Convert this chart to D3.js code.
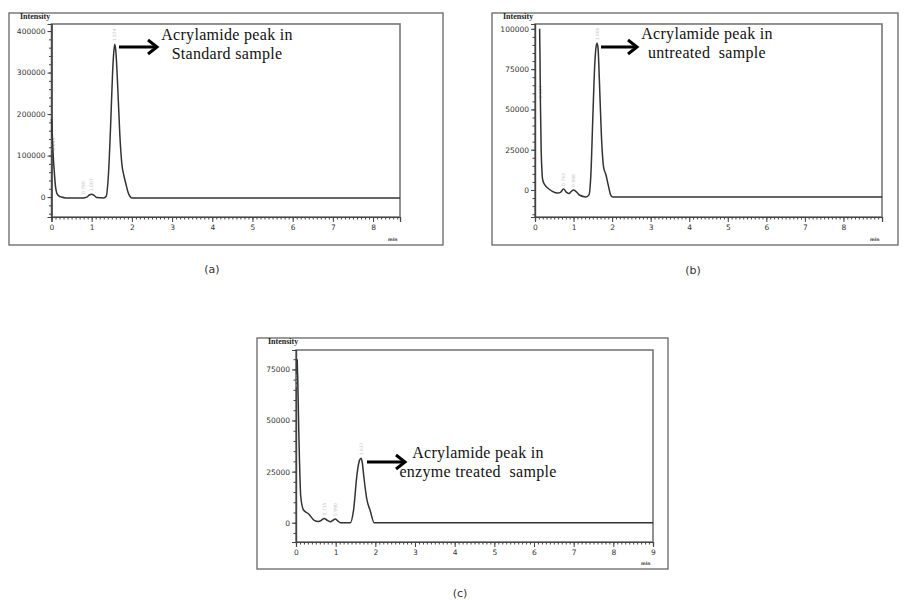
<!DOCTYPE html>
<meta charset="utf-8">
<head>
<style>
  body { margin: 0; background: #fff; }
  svg { display: block; }
</style>
</head>
<script type="text/javascript" src="https://cdn.jsdelivr.net/npm/d3@7"></script>
<body>
<script>

// chromatogram (a) standard sample
var timeA = [0, 0.02, 0.04, 0.07, 0.1, 0.13, 0.18, 0.25, 0.35, 0.5, 0.78, 0.88, 0.94, 1.0, 1.06, 1.12, 1.3, 1.36, 1.42, 1.47, 1.52, 1.55, 1.575, 1.6, 1.65, 1.7, 1.75, 1.8, 1.85, 1.9, 1.95, 2.0, 8.67];
var intA = [188000, 150000, 105000, 60000, 25000, 10000, 3000, 0, -2000, -2000, -2000, 0, 5000, 7000, 4000, -1000, -2000, 2000, 60000, 170000, 300000, 350000, 368000, 352000, 260000, 150000, 80000, 52000, 32000, 13000, 2000, -2000, -2000];

// chromatogram (b) untreated sample
var timeB = [0.12, 0.13, 0.14, 0.16, 0.18, 0.2, 0.26, 0.33, 0.45, 0.59, 0.66, 0.74, 0.82, 0.88, 0.95, 1.0, 1.06, 1.15, 1.32, 1.4, 1.45, 1.5, 1.55, 1.585, 1.61, 1.635, 1.67, 1.72, 1.78, 1.84, 1.9, 1.97, 2.02, 9.0];
var intB = [100000, 82000, 55000, 25000, 12000, 6200, 3000, 1200, -800, -1900, -1500, 600, -1500, -2200, -700, 0, -800, -3100, -4300, -3000, 10000, 45000, 78000, 89000, 91000, 88000, 68000, 35000, 14000, 9500, 3000, -3500, -4300, -4300];

// chromatogram (c) enzyme treated sample
var timeC = [0.03, 0.05, 0.07, 0.09, 0.12, 0.19, 0.32, 0.45, 0.57, 0.64, 0.71, 0.8, 0.87, 0.93, 0.99, 1.05, 1.12, 1.37, 1.45, 1.54, 1.6, 1.64, 1.67, 1.71, 1.79, 1.87, 1.97, 9.0];
var intC = [80000, 65000, 45000, 29000, 12700, 6200, 4300, 1300, 600, 1200, 2100, 1000, 500, 1200, 1800, 900, 0, 0, 6000, 24000, 30500, 31500, 29500, 22500, 11000, 6000, 0, 0];

var yTicksA = [0, 100000, 200000, 300000, 400000];
var yTicksB = [0, 25000, 50000, 75000, 100000];
var yTicksC = [0, 25000, 50000, 75000];
var xTicksAB = [0, 1, 2, 3, 4, 5, 6, 7, 8];
var xTicksC = [0, 1, 2, 3, 4, 5, 6, 7, 8, 9];

var labelsA = ["Acrylamide peak in", "Standard sample"];
var labelsB = ["Acrylamide peak in", "untreated  sample"];
var labelsC = ["Acrylamide peak in", "enzyme treated  sample"];

var rtA = [[0.04, "0.045"], [0.79, "0.790"], [1.0, "1.007"], [1.575, "1.574"]];
var rtB = [[0.14, "0.124"], [0.74, "0.743"], [1.0, "0.998"], [1.61, "1.606"]];
var rtC = [[0.05, "0.046"], [0.71, "0.715"], [0.99, "0.990"], [1.64, "1.637"]];

var svg = d3.select("body").append("svg")
    .attr("width", 911)
    .attr("height", 600);

function panel(o) {
  var g = svg.append("g");

  // outer frame
  g.append("rect")
    .attr("x", o.frame[0]).attr("y", o.frame[1])
    .attr("width", o.frame[2] - o.frame[0]).attr("height", o.frame[3] - o.frame[1])
    .style("fill", "none").style("stroke", "#666").style("stroke-width", 1.3);

  var x = d3.scaleLinear().domain(o.xDom).range([o.plot[0], o.plot[2]]);
  var y = d3.scaleLinear().domain(o.yDom).range([o.plot[3], o.plot[1]]);

  // plot box
  g.append("rect")
    .attr("x", o.plot[0]).attr("y", o.plot[1])
    .attr("width", o.plot[2] - o.plot[0]).attr("height", o.plot[3] - o.plot[1])
    .style("fill", "none").style("stroke", "#777").style("stroke-width", 1.6);

  // minor ticks
  var yMinor = d3.range(Math.ceil(o.yDom[0] / o.yMinor) * o.yMinor, o.yDom[1], o.yMinor);
  g.append("g").attr("transform", "translate(" + o.plot[0] + ",0)")
    .call(d3.axisLeft(y).tickValues(yMinor).tickSize(2.5).tickFormat(""));
  var xMinor = d3.range(0, o.xDom[1] + 0.001, 0.1);
  g.append("g").attr("transform", "translate(0," + o.plot[3] + ")")
    .call(d3.axisBottom(x).tickValues(xMinor).tickSize(2.5).tickFormat(""));

  // major ticks
  g.append("g").attr("transform", "translate(" + o.plot[0] + ",0)")
    .call(d3.axisLeft(y).tickValues(o.yTicks).tickSize(4).tickPadding(2).tickFormat(d3.format("d")));
  g.append("g").attr("transform", "translate(0," + o.plot[3] + ")")
    .call(d3.axisBottom(x).tickValues(o.xTicks).tickSize(5).tickPadding(3).tickFormat(d3.format("d")));

  g.selectAll(".domain").style("stroke", "#444").style("stroke-width", 1.2);
  g.selectAll(".tick line").style("stroke", "#444");
  g.selectAll(".tick text").style("font-family", "DejaVu Sans").style("font-size", "7.5px").style("fill", "#333");

  g.append("text")
    .attr("x", o.frame[0] + 11).attr("y", o.frame[1] + 6)
    .style("font-family", "Liberation Serif").style("font-size", "8px").style("font-weight", "bold")
    .style("fill", "#222").text("Intensity");

  g.append("text")
    .attr("x", o.plot[2] - 12).attr("y", o.frame[3] - 4)
    .style("font-family", "DejaVu Sans").style("font-size", "4.5px").style("font-weight", "bold")
    .style("fill", "#444").text("min");

  // faint retention time labels
  g.selectAll(".rt").data(o.rt).enter().append("text")
    .attr("transform", function(d) {
      var i = d3.bisectLeft(o.t, d[0]);
      var v = o.v[Math.min(i, o.v.length - 1)];
      return "translate(" + (x(d[0]) + 1.5) + "," + (Math.max(y(v) - 3, o.plot[1] + 16)) + ") rotate(-90)";
    })
    .style("font-family", "DejaVu Sans").style("font-size", "4.5px").style("fill", "#c8c8c8")
    .text(function(d) { return d[1]; });

  // chromatogram trace
  var line = d3.line()
    .x(function(d, i) { return x(o.t[i]); })
    .y(function(d) { return y(d); })
    .curve(d3.curveMonotoneX);
  g.append("path").datum(o.v)
    .attr("d", line)
    .style("fill", "none").style("stroke", "#333").style("stroke-width", 1.5)
    .style("stroke-linejoin", "round");

  // arrow and label
  var ax = o.arrow[0], ay = o.arrow[1], aw = o.arrow[2];
  g.append("line").attr("x1", ax).attr("y1", ay).attr("x2", ax + aw - 2).attr("y2", ay)
    .style("stroke", "#000").style("stroke-width", 3);
  g.append("path")
    .attr("d", "M" + (ax + aw - 9) + "," + (ay - 7) + "L" + (ax + aw) + "," + ay + "L" + (ax + aw - 9) + "," + (ay + 7))
    .style("fill", "none").style("stroke", "#000").style("stroke-width", 3);

  g.selectAll(".lab").data(o.labels).enter().append("text")
    .attr("x", o.text[0])
    .attr("y", function(d, i) { return o.text[1] + i * 19; })
    .attr("text-anchor", "middle")
    .style("font-family", "Liberation Serif").style("font-size", "16px")
    .style("letter-spacing", "0.3px").style("fill", "#111")
    .style("white-space", "pre").attr("xml:space", "preserve")
    .text(function(d) { return d; });

  svg.append("text")
    .attr("x", o.cap[0]).attr("y", o.cap[1])
    .attr("text-anchor", "middle")
    .style("font-family", "DejaVu Sans").style("font-size", "11px").style("fill", "#333")
    .text(o.capText);
}

panel({
  frame: [9, 13, 443, 245], plot: [51.5, 24, 400, 217],
  xDom: [0, 8.67], yDom: [-48000, 417000], yMinor: 20000,
  xTicks: xTicksAB, yTicks: yTicksA, t: timeA, v: intA, rt: rtA,
  arrow: [119, 47, 38], text: [227, 40], labels: labelsA,
  cap: [212, 273], capText: "(a)"
});

panel({
  frame: [492, 13, 898, 245], plot: [535, 24, 882, 217],
  xDom: [0, 9], yDom: [-16750, 103000], yMinor: 5000,
  xTicks: xTicksAB, yTicks: yTicksB, t: timeB, v: intB, rt: rtB,
  arrow: [601, 47, 36], text: [707, 39], labels: labelsB,
  cap: [693, 274], capText: "(b)"
});

panel({
  frame: [257, 338, 668, 569], plot: [296, 350, 653, 542],
  xDom: [0, 9], yDom: [-9440, 84500], yMinor: 5000,
  xTicks: xTicksC, yTicks: yTicksC, t: timeC, v: intC, rt: rtC,
  arrow: [367, 462, 38], text: [478, 458], labels: labelsC,
  cap: [460, 597], capText: "(c)"
});

</script>
</body>
